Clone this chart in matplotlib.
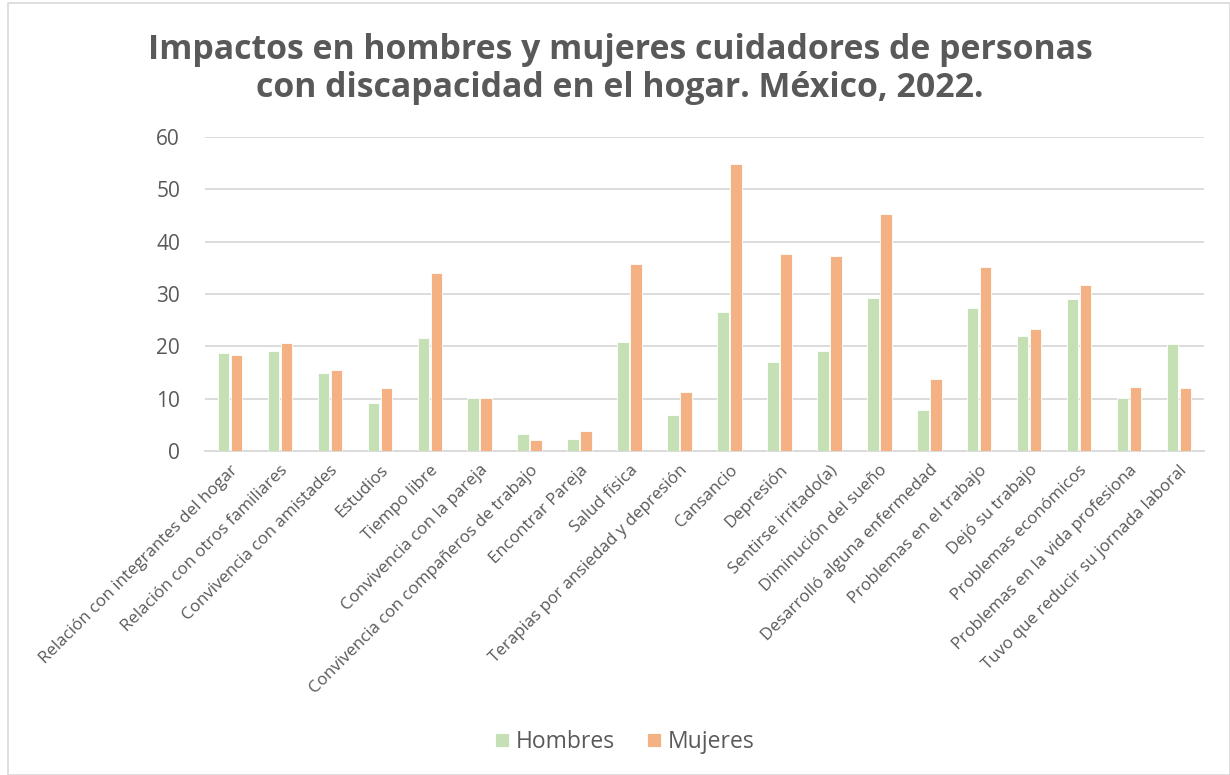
import matplotlib.pyplot as plt
import numpy as np
from matplotlib.patches import Rectangle

categorias = ['Relación con integrantes del hogar', 'Relación con otros familiares',
              'Convivencia con amistades', 'Estudios', 'Tiempo libre',
              'Convivencia con la pareja', 'Convivencia con compañeros de trabajo',
              'Encontrar Pareja', 'Salud física', 'Terapias por ansiedad y depresión',
              'Cansancio', 'Depresión', 'Sentirse irritado(a)', 'Diminución del sueño',
              'Desarrolló alguna enfermedad', 'Problemas en el trabajo', 'Dejó su trabajo',
              'Problemas económicos', 'Problemas en la vida profesiona',
              'Tuvo que reducir su jornada laboral']
hombres = [18.8, 19.1, 15.0, 9.2, 21.6, 10.2, 3.2, 2.2, 20.8, 6.9,
           26.6, 17.0, 19.1, 29.3, 7.9, 27.3, 21.9, 29.1, 10.2, 20.4]
mujeres = [18.4, 20.7, 15.4, 12.1, 34.0, 10.2, 2.1, 3.9, 35.8, 11.2,
           54.8, 37.7, 37.3, 45.2, 13.7, 35.2, 23.4, 31.7, 12.3, 12.0]

plt.rcParams['font.family'] = ['Open Sans', 'DejaVu Sans']
gris = '#595959'

fig = plt.figure(figsize=(12.3, 7.75), dpi=100)
ax = fig.add_axes([205/1230, 1-451/775, (1204-205)/1230, (451-137)/775])

x = np.arange(len(categorias))
w = 0.23
ax.bar(x - 0.13, hombres, w, color='#C5E0B4', edgecolor='white', linewidth=0.6,
       label='Hombres', zorder=3)
ax.bar(x + 0.13, mujeres, w, color='#F4B183', edgecolor='white', linewidth=0.6,
       label='Mujeres', zorder=3)

ax.set_xlim(-0.5, len(categorias) - 0.5)
ax.set_ylim(0, 60)
ax.set_yticks(range(0, 61, 10))
ax.yaxis.grid(True, color='#D9D9D9', linewidth=1.3, zorder=0)
for s in ['top', 'right', 'left']:
    ax.spines[s].set_visible(False)
ax.spines['bottom'].set_color('#D9D9D9')
ax.spines['bottom'].set_linewidth(1.3)
ax.tick_params(axis='both', length=0, colors=gris)
ax.tick_params(axis='y', labelsize=15, pad=18)
ax.set_xticks(x)
ax.set_xticklabels(categorias, rotation=45, ha='right', rotation_mode='anchor',
                   fontsize=12.2, color=gris)
ax.tick_params(axis='x', pad=8)

fig.text(0.504, 1-50/775, 'Impactos en hombres y mujeres cuidadores de personas',
         ha='center', va='center', fontsize=24.4, fontweight='bold', color=gris)
fig.text(0.504, 1-88/775, 'con discapacidad en el hogar. México, 2022.',
         ha='center', va='center', fontsize=24.4, fontweight='bold', color=gris)

fig.legend(loc='center', bbox_to_anchor=(0.508, 1-742/775), ncol=2, frameon=False,
           fontsize=16.5, labelcolor=gris, handlelength=0.6, handleheight=0.6,
           columnspacing=1.4, handletextpad=0.3)

fig.patches.append(Rectangle((8/1230, 0), 1 - 8/1230, 1 - 3/775, transform=fig.transFigure,
                             fill=False, edgecolor='#D9D9D9', linewidth=1.2))

fig.savefig('out.png', dpi=100)
